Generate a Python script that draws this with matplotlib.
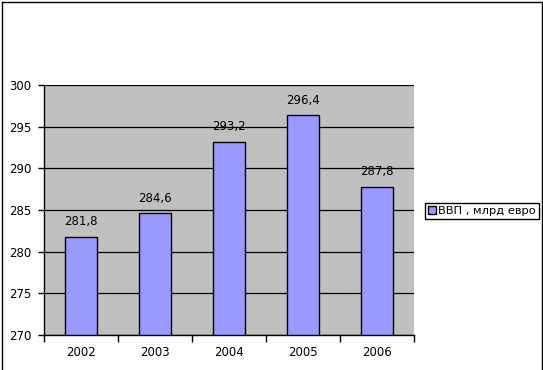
import matplotlib
matplotlib.use('Agg')
import matplotlib.pyplot as plt
from matplotlib.lines import Line2D

years = ['2002', '2003', '2004', '2005', '2006']
gdp = [281.8, 284.6, 293.2, 296.4, 287.8]
labels = ['281,8', '284,6', '293,2', '296,4', '287,8']
y_ticks = [270, 275, 280, 285, 290, 295, 300]
series_name = 'ВВП , млрд евро'

W, H = 543, 370
fig = plt.figure(figsize=(W / 100, H / 100), dpi=100)
fig.patch.set_facecolor('#FDFFFD')

ax = fig.add_axes([44 / W, 35 / H, 370 / W, 250 / H])
ax.set_facecolor('#C0C0C0')

x = list(range(len(years)))
bars = ax.bar(x, [v - 270 for v in gdp], bottom=270, width=0.42,
              color='#9999FF', edgecolor='black', linewidth=1.0,
              zorder=3, label=series_name)

ax.set_xlim(-0.5, len(years) - 0.5)
ax.set_ylim(270, 300)
ax.set_yticks(y_ticks)
ax.set_yticklabels([str(t) for t in y_ticks], fontsize=8.5)
ax.yaxis.grid(True, color='black', linewidth=0.9, zorder=1)
ax.set_axisbelow(True)

# category ticks on boundaries, labels centered
ax.set_xticks([i - 0.5 for i in range(len(years) + 1)])
ax.set_xticklabels([])
ax.set_xticks(x, minor=True)
ax.set_xticklabels(years, minor=True, fontsize=8.5)
ax.tick_params(axis='x', which='minor', length=0, pad=8)
ax.tick_params(axis='x', which='major', length=5, width=1, direction='out')
ax.tick_params(axis='y', length=4, width=1, direction='out', pad=5)

for s in ['top', 'right']:
    ax.spines[s].set_visible(False)
for s in ['left', 'bottom']:
    ax.spines[s].set_color('black')
    ax.spines[s].set_linewidth(1)

for xi, v, lab in zip(x, gdp, labels):
    ax.annotate(lab, (xi, v), xytext=(0, 6), textcoords='offset points',
                ha='center', va='bottom', fontsize=8.5)

leg = fig.legend(handles=[bars], labels=[series_name], loc='center left',
                 bbox_to_anchor=(425 / W, 1 - 211 / H), fontsize=8.2,
                 frameon=True, fancybox=False, edgecolor='black',
                 framealpha=1, handlelength=0.7, handleheight=0.7,
                 handletextpad=0.15, borderpad=0.3, borderaxespad=0)
leg.get_frame().set_linewidth(1)

# outer chart border (left, top, right)
fig.add_artist(Line2D([1.5 / W, 1.5 / W], [0, 1 - 1.5 / H], color='black', lw=1))
fig.add_artist(Line2D([1.5 / W, 1 - 1.5 / W], [1 - 1.5 / H, 1 - 1.5 / H], color='black', lw=1))
fig.add_artist(Line2D([1 - 1.5 / W, 1 - 1.5 / W], [0, 1 - 1.5 / H], color='black', lw=1))

fig.savefig('out.png', dpi=100, facecolor=fig.get_facecolor())
